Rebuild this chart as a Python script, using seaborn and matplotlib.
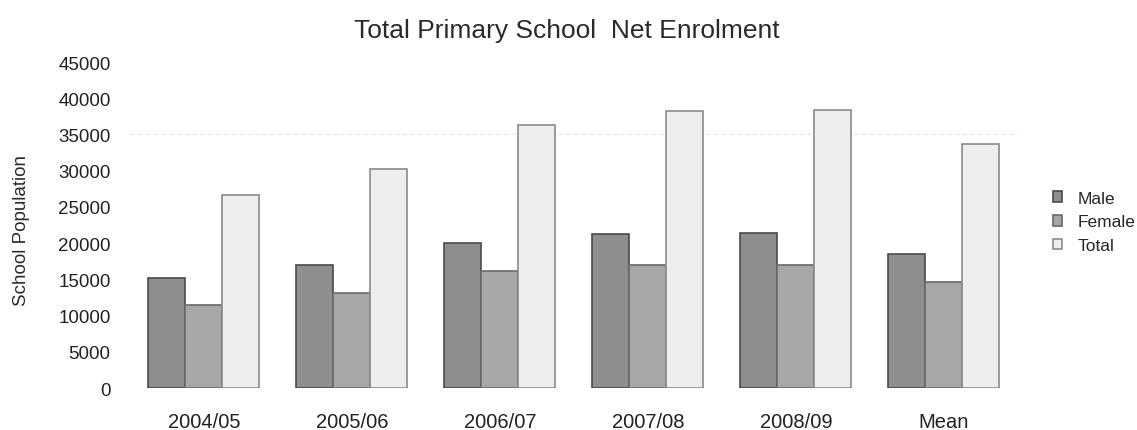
import pandas as pd
import matplotlib.pyplot as plt
import seaborn as sns

# Values
years = ["2004/05", "2005/06", "2006/07", "2007/08", "2008/09", "Mean"]
male = [15200, 17000, 20000, 21200, 21400, 18500]
female = [11500, 13100, 16100, 17000, 17000, 14600]
total = [26600, 30300, 36300, 38300, 38400, 33700]
yticks = [0, 5000, 10000, 15000, 20000, 25000, 30000, 35000, 40000, 45000]

df = pd.DataFrame({"year": years, "Male": male, "Female": female, "Total": total})
df = df.melt(id_vars="year", var_name="sex", value_name="pop")

sns.set_style("white")
plt.rcParams["font.family"] = ["Liberation Sans", "DejaVu Sans"]

fig = plt.figure(figsize=(11.37, 4.31), dpi=100)
ax = fig.add_axes([0.1143, 0.0974, 0.781, 0.7564])

colors = {"Male": "#8e8e8e", "Female": "#a7a7a7", "Total": "#eeeeee"}
edges = {"Male": "#4a4a4a", "Female": "#6a6a6a", "Total": "#8a8a8a"}

sns.barplot(data=df, x="year", y="pop", hue="sex", palette=colors,
            width=0.75, gap=0, ax=ax, linewidth=1.2, legend=True)

for cont, name in zip(ax.containers, ["Male", "Female", "Total"]):
    for bar in cont:
        bar.set_edgecolor(edges[name])

# faint guide line seen in the scan
ax.axhline(35000, color="#e4e4e4", lw=0.8, ls=(0, (4, 3)), zorder=0)

ax.set_xlim(-0.5, 5.5)
ax.set_ylim(0, 45000)
ax.set_yticks(yticks)
ax.set_yticklabels([str(v) for v in yticks])
ax.tick_params(axis="y", length=0, pad=14, labelsize=13.5, labelcolor="#222222")
ax.tick_params(axis="x", length=0, pad=17, labelsize=14.5, labelcolor="#222222")
ax.set_xlabel("")
ax.set_ylabel("")
sns.despine(ax=ax, left=True, bottom=True)

fig.text(0.4987, 0.927, "Total Primary School  Net Enrolment", ha="center",
         va="center", fontsize=19, color="#2a2a2a")
fig.text(0.019, 0.466, "School Population", rotation=90, ha="center",
         va="center", fontsize=13.5, color="#2a2a2a")

leg = ax.legend(loc="center left", bbox_to_anchor=(0.926, 0.4826),
                bbox_transform=fig.transFigure, frameon=False,
                handlelength=0.55, handleheight=0.55, handletextpad=0.85,
                borderpad=0, borderaxespad=0, labelspacing=0.5, fontsize=12.5)
for h, name in zip(leg.legend_handles, ["Male", "Female", "Total"]):
    h.set_edgecolor(edges[name])

fig.savefig("out.png", dpi=100)
